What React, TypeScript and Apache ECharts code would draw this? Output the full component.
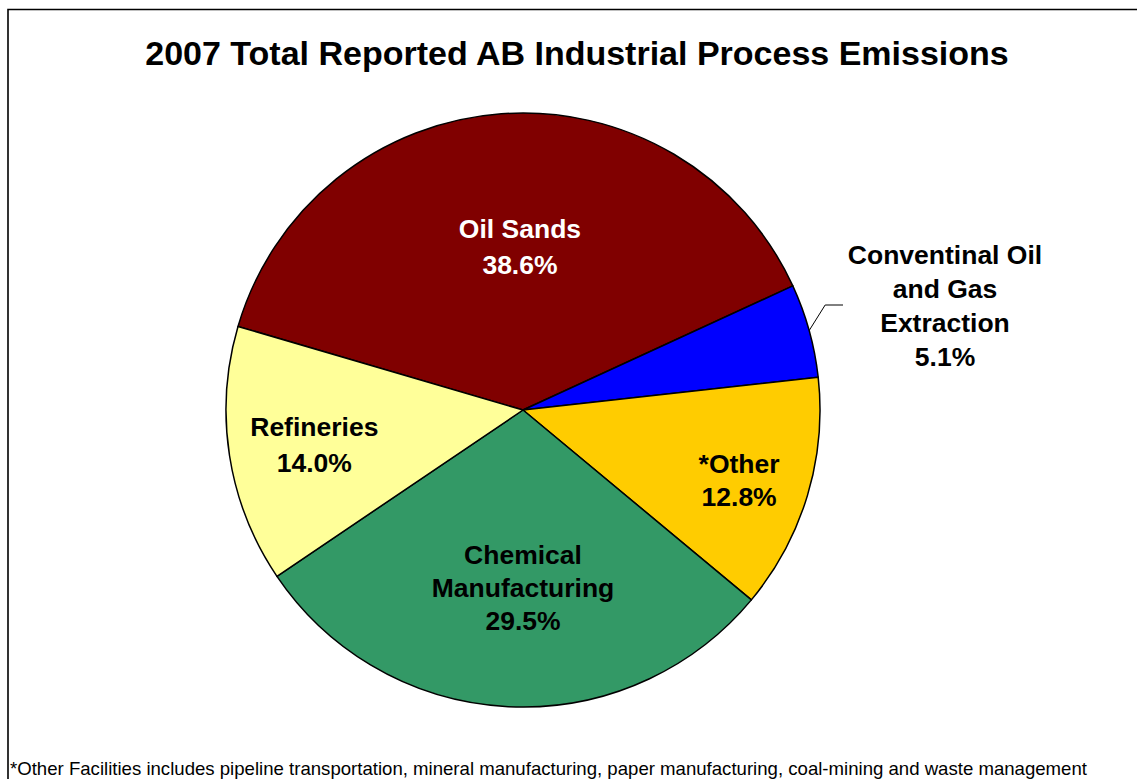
import React, { useEffect, useRef } from 'react';
import * as echarts from 'echarts';

const titleText = '2007 Total Reported AB Industrial Process Emissions';
const footnoteText =
  '*Other Facilities includes pipeline transportation, mineral manufacturing, paper manufacturing, coal-mining and waste management';

const categories = [
  'Oil Sands',
  'Conventinal Oil\nand Gas\nExtraction',
  '*Other',
  'Chemical\nManufacturing',
  'Refineries',
];
const values = [38.6, 5.1, 12.8, 29.5, 14.0];

const colors = ['#800000', '#0000FF', '#FFCC00', '#339966', '#FFFF99'];
const labelColors = ['#FFFFFF', '#000000', '#000000', '#000000', '#000000'];
const labelLineHeights = [36, 34, 33, 33, 36];
const labelOffsets = [
  [8, -12],
  [0, 0],
  [71, 27],
  [7.5, 27],
  [-59, 12],
];

const FONT = '"Liberation Sans", Arial, Helvetica, sans-serif';

export default function App() {
  const ref = useRef<HTMLDivElement>(null);

  useEffect(() => {
    document.body.style.margin = '0';
    const chart = echarts.init(ref.current!, null, { renderer: 'svg' });

    const data = categories.map((name, i) => {
      const outside = i === 1;
      return {
        name,
        value: values[i],
        itemStyle: { color: colors[i] },
        label: outside
          ? {
              position: 'outside',
              color: labelColors[i],
              lineHeight: labelLineHeights[i],
              align: 'center',
            }
          : {
              position: 'inside',
              color: labelColors[i],
              lineHeight: labelLineHeights[i],
              offset: labelOffsets[i],
              align: 'center',
            },
        labelLine: outside
          ? { show: true, length: 20, length2: 18, lineStyle: { color: '#000', width: 1 } }
          : { show: false },
      };
    });

    chart.setOption({
      animation: false,
      backgroundColor: '#FFFFFF',
      graphic: [
        {
          type: 'rect',
          shape: { x: 8, y: 9.5, width: 1300, height: 900 },
          style: { fill: 'none', stroke: '#000', lineWidth: 1.6 },
          silent: true,
        },
        {
          type: 'text',
          x: 577,
          y: 53,
          style: {
            text: titleText,
            font: `bold 34px ${FONT}`,
            fill: '#000',
            align: 'center',
            verticalAlign: 'middle',
            textAlign: 'center',
            textVerticalAlign: 'middle',
          },
        },
        {
          type: 'text',
          x: 10,
          y: 768,
          style: {
            text: footnoteText,
            font: `18.6px ${FONT}`,
            fill: '#000',
            align: 'left',
            verticalAlign: 'middle',
            textAlign: 'left',
            textVerticalAlign: 'middle',
          },
        },
      ],
      series: [
        {
          type: 'pie',
          center: [523, 410],
          radius: 297,
          startAngle: 163.66,
          clockwise: true,
          avoidLabelOverlap: false,
          itemStyle: { borderColor: '#000', borderWidth: 1.5 },
          emphasis: { disabled: true },
          label: {
            show: true,
            fontFamily: FONT,
            fontWeight: 'bold',
            fontSize: 26.5,
            formatter: (p: any) => `${p.name}\n${Number(p.value).toFixed(1)}%`,
          },
          labelLayout: (params: any) => {
            if (params.dataIndex !== 1) return {};
            const pts = params.labelLinePoints;
            if (!pts) return { x: 945, y: 306, align: 'center', verticalAlign: 'middle' };
            const p0 = pts[0];
            return {
              x: 945,
              y: 306,
              align: 'center',
              verticalAlign: 'middle',
              labelLinePoints: [
                [p0[0], p0[1]],
                [p0[0] + 16, 305],
                [843, 305],
              ],
            };
          },
          data,
        },
      ],
    });

    return () => chart.dispose();
  }, []);

  return <div ref={ref} style={{ width: 1137, height: 779 }} />;
}
